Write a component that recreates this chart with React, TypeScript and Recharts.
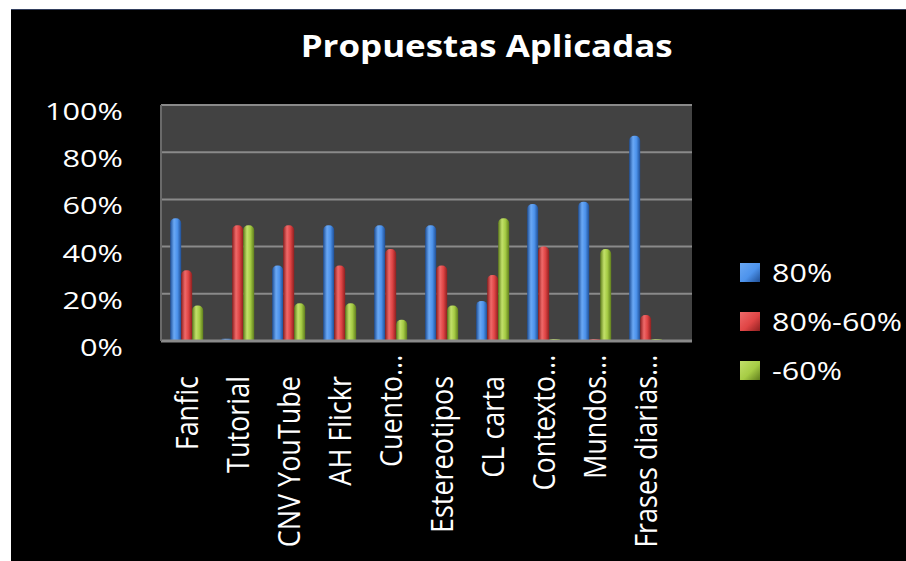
import React from 'react';
import { BarChart, Bar, XAxis, YAxis, CartesianGrid } from 'recharts';

const categories = ['Fanfic', 'Tutorial', 'CNV YouTube', 'AH Flickr', 'Cuento...', 'Estereotipos', 'CL carta', 'Contexto...', 'Mundos...', 'Frases diarias...'];
const serie80 = [52, 1, 32, 49, 49, 49, 17, 58, 59, 87];
const serie8060 = [30, 49, 49, 32, 39, 32, 28, 40, 0.8, 11];
const serieMenos60 = [15, 49, 16, 16, 9, 15, 52, 0.8, 39, 0.8];
const yTicks = [0, 20, 40, 60, 80, 100];
const seriesNames = ['80%', '80%-60%', '-60%'];
const title = 'Propuestas Aplicadas';

const data = categories.map((c, i) => ({
  name: c,
  a: serie80[i],
  b: serie8060[i],
  c: serieMenos60[i],
}));

const seriesDefs = [
  { key: 'a', name: seriesNames[0], id: 'gBlue', dark: '#1f4f96', mid: '#4d93ec', light: '#6aa8f4' },
  { key: 'b', name: seriesNames[1], id: 'gRed', dark: '#8e1f1f', mid: '#e04545', light: '#ef6a6a' },
  { key: 'c', name: seriesNames[2], id: 'gGreen', dark: '#5f7d1c', mid: '#a6cc45', light: '#c2e06a' },
];

const FONT = '"Open Sans", "DejaVu Sans", sans-serif';

const YTick = (props: any) => {
  const { x, y, payload } = props;
  return (
    <text
      transform={`translate(${x},${y + 15}) scale(1.28,1)`}
      textAnchor="end"
      fill="#ffffff"
      fontFamily={FONT}
      fontSize={24}
    >
      {`${payload.value}%`}
    </text>
  );
};

const XTick = (props: any) => {
  const { x, y, payload } = props;
  const label: string = payload.value;
  const hasEllipsis = label.endsWith('...');
  const main = hasEllipsis ? label.slice(0, -3) : label;
  const tf = `translate(${x},${y}) rotate(-90) scale(1,1.15)`;
  return (
    <g>
      <text transform={tf} textAnchor="end" dy="0.36em" fill="#ffffff" fontFamily={FONT} fontSize={27}>
        {main}
      </text>
      {hasEllipsis && (
        <text transform={tf} textAnchor="start" dy="0.36em" fill="#ffffff" fontFamily={FONT} fontSize={27}>
          ...
        </text>
      )}
    </g>
  );
};

export default function App() {
  return (
    <div style={{ position: 'absolute', left: 0, top: 0, width: 906, height: 561, background: '#ffffff', overflow: 'hidden' }}>
      <div style={{ position: 'absolute', left: 11, top: 9, width: 895, height: 552, background: '#000000', borderTop: '1px solid #34405e', boxSizing: 'border-box' }} />
      <div style={{ position: 'absolute', left: 11, top: 9 }}>
        <BarChart
          width={895}
          height={552}
          data={data}
          margin={{ top: 96, right: 214, bottom: 0, left: 0 }}
          barCategoryGap="18%"
          barGap={0}
        >
          <defs>
            {seriesDefs.map((s) => (
              <linearGradient key={s.id} id={s.id} x1="0" y1="0" x2="1" y2="0">
                <stop offset="0%" stopColor={s.dark} />
                <stop offset="35%" stopColor={s.light} />
                <stop offset="65%" stopColor={s.mid} />
                <stop offset="100%" stopColor={s.dark} />
              </linearGradient>
            ))}
          </defs>
          <text x={475.7} y={48} textAnchor="middle" fill="#ffffff" fontFamily={FONT} fontWeight="bold" fontSize={30} textLength={372} lengthAdjust="spacingAndGlyphs">
            {title}
          </text>
          <CartesianGrid vertical={false} fill="#424242" stroke="#8a8a8a" strokeWidth={2} />
          <XAxis
            dataKey="name"
            height={220}
            interval={0}
            tickLine={false}
            tickSize={0}
            tickMargin={35}
            axisLine={{ stroke: '#8a8a8a', strokeWidth: 3 }}
            tick={<XTick />}
            padding={{ left: 0, right: 21 }}
          />
          <YAxis
            width={150}
            domain={[0, 100]}
            ticks={yTicks}
            tickLine={false}
            tickSize={0}
            tickMargin={38}
            axisLine={{ stroke: '#6a6a6a', strokeWidth: 2 }}
            tick={<YTick />}
            interval={0}
          />
          {seriesDefs.map((s) => (
            <Bar key={s.key} dataKey={s.key} name={s.name} fill={`url(#${s.id})`} radius={[5, 5, 0, 0]} isAnimationActive={false} />
          ))}
        </BarChart>
      </div>
      <div style={{ position: 'absolute', left: 740, top: 250 }}>
        {seriesDefs.map((s, i) => (
          <div key={s.key} style={{ position: 'absolute', left: 0, top: i * 49, height: 44, width: 170, display: 'flex', alignItems: 'center' }}>
            <div style={{ width: 20, height: 19, background: `linear-gradient(135deg, ${s.light}, ${s.mid} 55%, ${s.dark})`, flex: 'none' }} />
            <div style={{ marginLeft: 12, color: '#ffffff', fontFamily: FONT, fontSize: 25, transform: 'scaleX(1.22)', transformOrigin: 'left center', whiteSpace: 'nowrap', lineHeight: '44px' }}>
              {s.name}
            </div>
          </div>
        ))}
      </div>
    </div>
  );
}
